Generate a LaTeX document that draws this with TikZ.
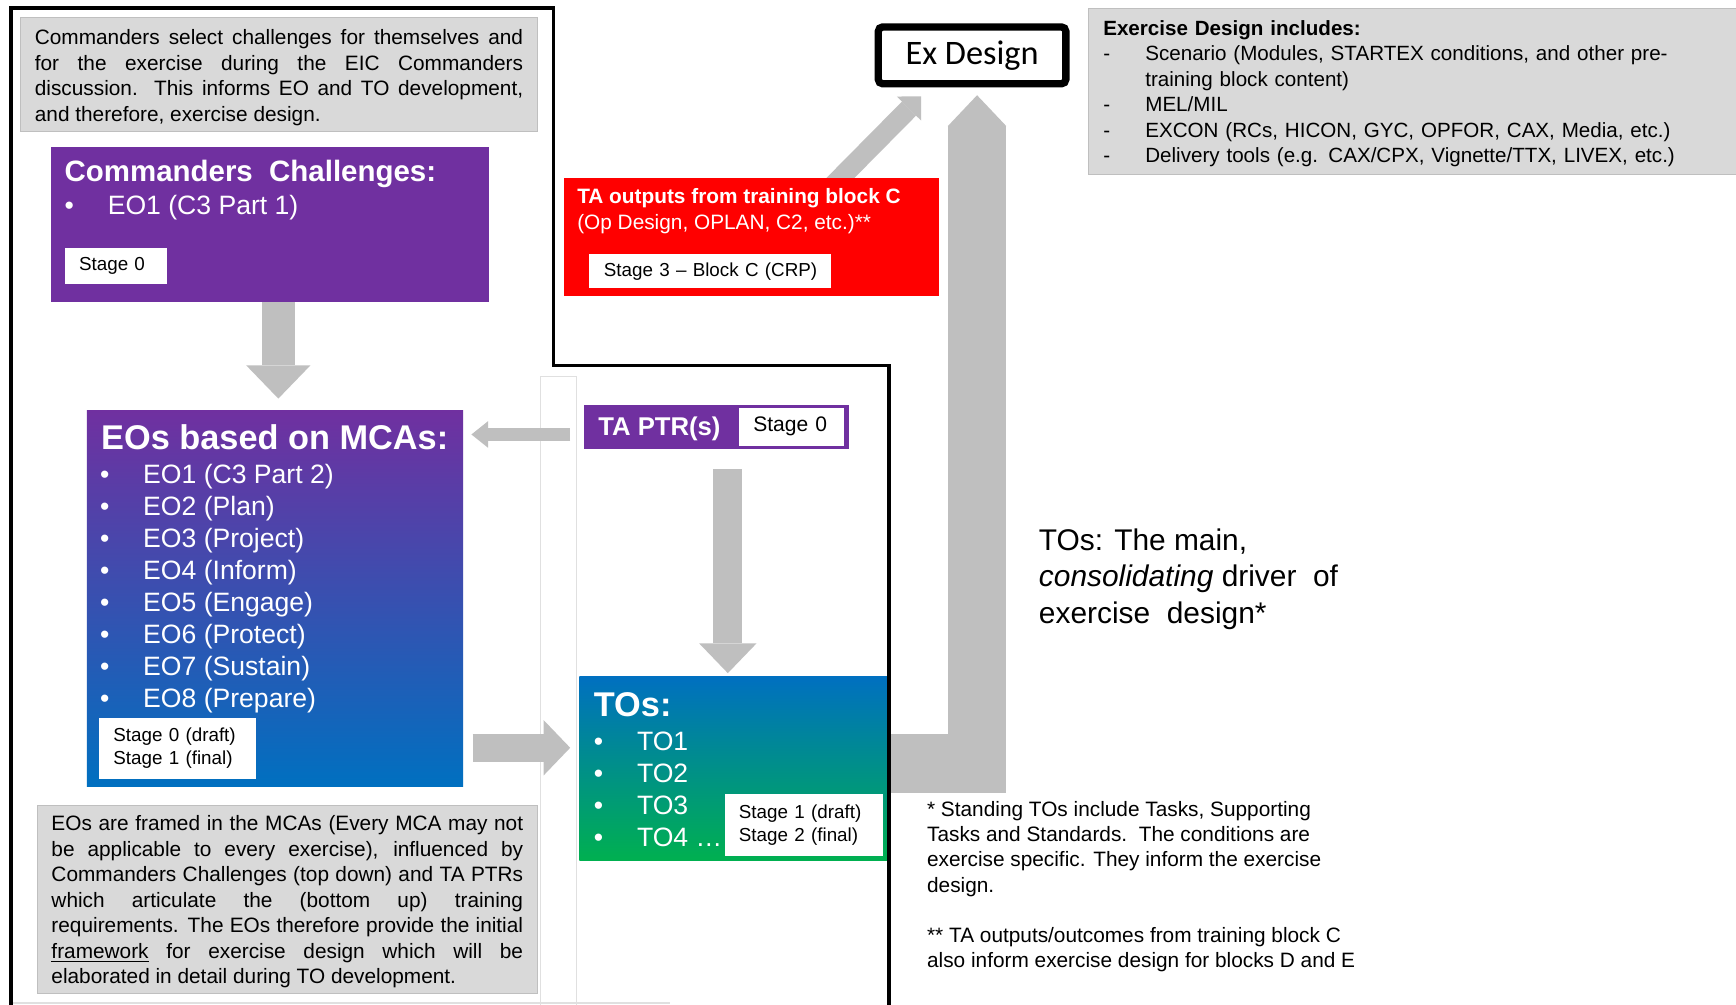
\documentclass[tikz,border=0pt]{standalone}
\usepackage{fontspec}
\setmainfont{Liberation Sans}
\newfontfamily\calibri{Carlito}
\usepackage{tikz}
\usetikzlibrary{positioning, arrows.meta, backgrounds}

\definecolor{eopurple}{HTML}{7030A0}
\definecolor{eoblue}{HTML}{0070C0}
\definecolor{togreen}{HTML}{00B050}
\definecolor{tared}{HTML}{FF0000}
\definecolor{arrowgrey}{HTML}{BFBFBF}
\definecolor{notegrey}{HTML}{D9D9D9}

\newcommand{\itembul}{\makebox[19.5pt][l]{\textbullet}}
\newcommand{\dashitem}{\makebox[19pt][l]{-}}

\begin{document}
\begin{tikzpicture}[
    x=0.5pt, y={(0pt,-0.5pt)},
    pbox/.style={anchor=north west, inner sep=0pt},
    notebox/.style={pbox, fill=notegrey, draw=arrowgrey, line width=0.5pt, inner xsep=6.5pt, align=justify, font=\fontsize{9.4}{11.5}\selectfont},
    stagebox/.style={pbox, fill=white, inner xsep=6.5pt, align=left, font=\fontsize{8.5}{10.5}\selectfont},
    txt/.style={anchor=base west, inner sep=0pt, text=white},
    ttl/.style={txt, font=\bfseries\fontsize{15.5}{18}\selectfont},
    bullets/.style={txt, font=\fontsize{12}{14.5}\selectfont},
    fat/.style={draw=arrowgrey, line width=#1},
    bordline/.style={line width=1.6pt},
    faint/.style={draw=black!12, line width=0.6pt}
]
    \useasboundingbox (0,0) rectangle (1568,907);
    \begin{pgfonlayer}{background}
        \fill[white] (0,0) rectangle (1568,907);
    \end{pgfonlayer}

    % notas grises
    \node[notebox, text width=220.5pt, minimum height=51.5pt] (topnote) at (18,15) {\rule{0pt}{9.9pt}Commanders select challenges for themselves and\linebreak for the exercise during the EIC Commanders\linebreak discussion. This informs EO and TO development,\linebreak and therefore, exercise design.};
    \node[notebox, text width=213pt, minimum height=85pt] (botnote) at (33,727) {\rule{0pt}{9pt}EOs are framed in the MCAs (Every MCA may not\linebreak be applicable to every exercise), influenced by\linebreak Commanders Challenges (top down) and TA PTRs\linebreak which articulate the (bottom up) training\linebreak requirements. The EOs therefore provide the initial\linebreak \underline{framework} for exercise design which will be\linebreak elaborated in detail during TO development.};
    \node[notebox, align=left, text width=290pt, minimum height=75pt, font=\fontsize{9.3}{11.5}\selectfont] (exdnote) at (983,7) {\rule{0pt}{9pt}\textbf{Exercise Design includes:}\\
        \dashitem Scenario (Modules, STARTEX conditions, and other pre-\\
        \hspace*{19pt}training block content)\\
        \dashitem MEL/MIL\\
        \dashitem EXCON (RCs, HICON, GYC, OPFOR, CAX, Media, etc.)\\
        \dashitem Delivery tools (e.g. CAX/CPX, Vignette/TTX, LIVEX, etc.)};

    % commanders challenges
    \node[pbox, fill=eopurple, minimum width=197.5pt, minimum height=70pt] (cc) at (46,132) {};
    \node[txt, font=\bfseries\fontsize{13.3}{16}\selectfont] (cctitle) at (58,164) {Commanders\ \ Challenges:};
    \node[bullets] (cceo) at (58,194) {\itembul EO1 (C3 Part 1)};
    \node[stagebox, text width=33pt, minimum height=16pt] (ccstage) at (58,224) {Stage 0};

    % EOs
    \node[pbox, top color=eopurple, bottom color=eoblue, minimum width=170pt, minimum height=170pt] (eos) at (78,370) {};
    \node[ttl] (eotitle) at (91,406) {EOs based on MCAs:};
    \foreach \eo [count=\i from 0] in {EO1 (C3 Part 2), EO2 (Plan), EO3 (Project), EO4 (Inform), EO5 (Engage), EO6 (Protect), EO7 (Sustain), EO8 (Prepare)}
        \node[bullets] (eo\i) at (90,{436.5+28.9*\i}) {\itembul\eo};
    \node[stagebox, text width=58pt, minimum height=27.5pt] (eostage) at (89,648) {Stage 0 (draft)\\Stage 1 (final)};

    % TA PTRs
    \node[pbox, fill=eopurple, minimum width=119.5pt, minimum height=20pt] (tapt) at (527,365) {};
    \node[txt, font=\bfseries\fontsize{11.6}{14}\selectfont] (taptname) at (540,393) {TA PTR(s)};
    \node[stagebox, text width=34.5pt, minimum height=17pt, font=\fontsize{9.5}{11}\selectfont] (taptstage) at (667,368) {Stage 0};

    % TOs
    \node[pbox, top color=eoblue, bottom color=togreen, minimum width=139pt, minimum height=83pt] (tos) at (523,611) {};
    \node[ttl] (totitle) at (536,647) {TOs:};
    \foreach \tx [count=\i from 0] in {TO1, TO2, TO3, TO4 \ldots}
        \node[bullets] (to\i) at (536,{677.5+29*\i}) {\itembul\tx};
    \node[stagebox, text width=58.5pt, minimum height=28pt] (tostage) at (654,717) {Stage 1 (draft)\\Stage 2 (final)};

    % salidas TA bloque C
    \node[pbox, fill=tared, minimum width=169.5pt, minimum height=53.5pt] (tac) at (509,160) {};
    \node[txt, font=\bfseries\fontsize{9.4}{11.5}\selectfont] (tactitle) at (521,184) {TA outputs from training block C};
    \node[txt, font=\fontsize{9.4}{11.5}\selectfont] (tacsub) at (521,207) {(Op Design, OPLAN, C2, etc.)**};
    \node[stagebox, text width=96pt, minimum height=15.5pt] (tacstage) at (532,229) {\mbox{Stage 3 -- Block C (CRP)}};

    % Ex Design
    \node[draw, line width=3.3pt, rounded corners=2pt, minimum width=84.7pt, minimum height=25.7pt, inner sep=0pt, font=\calibri\fontsize{15.5}{18}\selectfont] (exd) at (878,50) {Ex Design};

    % textos sueltos
    \node[anchor=north west, inner sep=0pt, align=left, font=\fontsize{13.5}{16.5}\selectfont] (driver) at (938,477) {TOs: The main,\\\textit{consolidating} driver\ \ of\\exercise\ \ design*};
    \node[anchor=north west, inner sep=0pt, align=left, font=\fontsize{9.4}{11.5}\selectfont] (footnotes) at (837,723) {* Standing TOs include Tasks, Supporting\\Tasks and Standards.\ \ The conditions are\\exercise specific. They inform the exercise\\design.\\[11pt]** TA outputs/outcomes from training block C\\also inform exercise design for blocks D and E};

    % flechas
    \draw[fat=15pt, -{Triangle[width=29pt,length=15pt,line width=0pt]}, shorten >=5pt] ([xshift=3.75pt]cc.south) -- ([xshift=3.75pt]cc.south |- eos.north);
    \draw[fat=6pt, -{Triangle[width=12pt,length=7.5pt,line width=0pt]}, shorten <=6pt, shorten >=3.5pt] ([yshift=-3.5pt]tapt.west) -- ([yshift=-3.5pt]tapt.west -| eos.east);
    \draw[fat=13pt, -{Triangle[width=26pt,length=13.5pt,line width=0pt]}, shorten <=9pt, shorten >=1.5pt] ([xshift=5.25pt]tapt.south) -- ([xshift=5.25pt]tapt.south |- tos.north);
    \draw[fat=12.5pt, -{Triangle[width=25pt,length=12pt,line width=0pt]}, shorten <=4pt, shorten >=4pt] ([yshift=9.5pt]tos.west -| eos.east) -- ([yshift=9.5pt]tos.west);
    \draw[fat=26.5pt, -{Triangle[width=26.5pt,length=14pt,line width=0pt]}, shorten >=3.5pt] ([yshift=2.25pt]tos.east) -| ([xshift=2.25pt]exd.south);
    \begin{pgfonlayer}{background}
        \draw[fat=9pt, -{Triangle[width=15.5pt,length=7.8pt,line width=0pt]}] ([xshift=35.5pt,yshift=-5pt]tac.north) -- ([xshift=21pt,yshift=-4pt]exd.south west);
        \draw[faint] (488,912) -- (488,340) -- (521,340) -- (521,912);
        \draw[faint] (10,906) -- (605,906);
    \end{pgfonlayer}

    % marco
    \draw[bordline] (10,912) -- (10,7) -- (500,7) -- (500,330) -- (803,330) -- (803,912);
\end{tikzpicture}
\end{document}
